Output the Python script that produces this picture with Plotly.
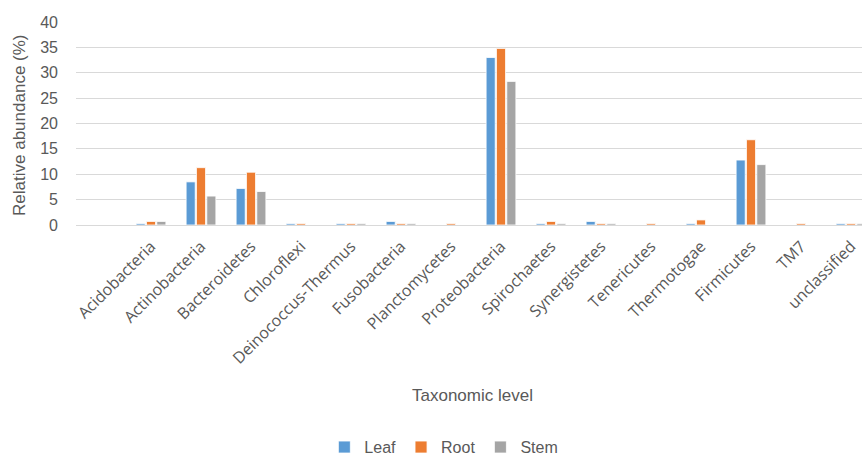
import plotly.graph_objects as go

phyla = ["Acidobacteria", "Actinobacteria", "Bacteroidetes", "Chloroflexi",
         "Deinococcus-Thermus", "Fusobacteria", "Planctomycetes", "Proteobacteria",
         "Spirochaetes", "Synergistetes", "Tenericutes", "Thermotogae",
         "Firmicutes", "TM7", "unclassified"]

leaf = [0.3, 8.5, 7.2, 0.3, 0.3, 0.7, 0.0, 33.0, 0.3, 0.7, 0.0, 0.3, 12.8, 0.0, 0.3]
root = [0.7, 11.3, 10.4, 0.3, 0.3, 0.3, 0.3, 34.8, 0.7, 0.3, 0.3, 1.0, 16.8, 0.3, 0.3]
stem = [0.7, 5.7, 6.6, 0.0, 0.3, 0.3, 0.0, 28.3, 0.3, 0.3, 0.0, 0.0, 11.9, 0.0, 0.3]

y_ticks = [0, 5, 10, 15, 20, 25, 30, 35, 40]

series = [("Leaf", leaf, "#5B9BD5"), ("Root", root, "#ED7D31"), ("Stem", stem, "#A5A5A5")]

fig = go.Figure()
for name, vals, color in series:
    fig.add_trace(go.Bar(
        x=phyla, y=vals, name=name,
        marker=dict(color=color, line=dict(color="white", width=0.8)),
    ))

text_grey = "#595959"

fig.update_layout(
    width=862, height=455,
    margin=dict(l=76, r=0, t=22, b=230, autoexpand=False),
    paper_bgcolor="white", plot_bgcolor="white",
    barmode="group", bargap=0.38, bargroupgap=0.12,
    font=dict(family="Arial, Liberation Sans, sans-serif", color=text_grey),
    showlegend=True,
    legend=dict(orientation="h", x=0.468, xanchor="center", y=-1.178, yanchor="bottom",
                font=dict(size=16, color=text_grey), itemwidth=30,
                traceorder="normal", bgcolor="rgba(0,0,0,0)"),
    xaxis=dict(
        type="category", categoryorder="array", categoryarray=phyla,
        range=[-1.5, 14.22], tickangle=-45, showline=False, showgrid=False,
        ticks="", ticklabelstandoff=8,
        tickfont=dict(family="Open Sans, sans-serif", size=16, color=text_grey),
        automargin=False, fixedrange=True,
    ),
    yaxis=dict(
        range=[0, 40], tickvals=y_ticks, showgrid=True, gridcolor="#D9D9D9",
        gridwidth=1, zeroline=True, zerolinecolor="#D9D9D9", zerolinewidth=1,
        showline=False, ticks="", ticklabelstandoff=17, automargin=False,
        tickfont=dict(size=16, color=text_grey),
    ),
    annotations=[
        dict(text="Relative abundance (%)", xref="paper", yref="paper",
             x=-0.072, y=0.49, xanchor="center", yanchor="middle", textangle=-90,
             showarrow=False, font=dict(size=17, color=text_grey)),
        dict(text="Taxonomic level", xref="paper", yref="paper",
             x=0.504, y=-0.84, xanchor="center", yanchor="middle",
             showarrow=False, font=dict(size=17, color=text_grey)),
    ],
)

fig.write_html("out.html")
